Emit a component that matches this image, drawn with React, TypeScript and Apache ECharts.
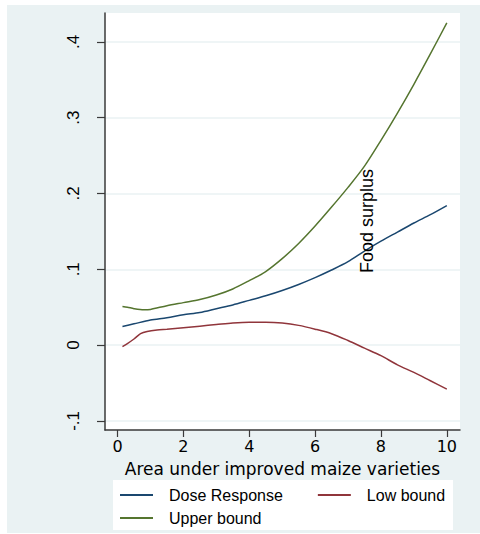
import React, { useEffect, useRef } from "react";
import * as echarts from "echarts";

const xDose = [0.15, 0.5, 1, 1.5, 2, 2.5, 3, 3.5, 4, 4.5, 5, 5.5, 6, 6.5, 7, 7.5, 8, 8.5, 9, 9.5, 10];
const doseResponse = [0.0245, 0.028, 0.033, 0.036, 0.04, 0.043, 0.048, 0.053, 0.059, 0.065, 0.072, 0.08, 0.089, 0.099, 0.11, 0.124, 0.137, 0.149, 0.161, 0.172, 0.184];

const xLow = [0.15, 0.3, 0.5, 0.7, 0.9, 1.2, 1.5, 2, 2.5, 3, 3.5, 4, 4.5, 5, 5.5, 6, 6.5, 7, 7.5, 8, 8.5, 9, 9.5, 10];
const lowBound = [-0.002, 0.002, 0.008, 0.015, 0.018, 0.02, 0.021, 0.023, 0.025, 0.027, 0.029, 0.03, 0.03, 0.029, 0.026, 0.021, 0.015, 0.006, -0.004, -0.014, -0.026, -0.036, -0.047, -0.058];

const xUpper = [0.15, 0.3, 0.5, 0.8, 1, 1.5, 2, 2.5, 3, 3.5, 4, 4.5, 5, 5.5, 6, 6.5, 7, 7.5, 8, 8.5, 9, 9.5, 10];
const upperBound = [0.051, 0.05, 0.048, 0.0465, 0.047, 0.052, 0.056, 0.06, 0.066, 0.074, 0.085, 0.097, 0.114, 0.134, 0.157, 0.182, 0.208, 0.236, 0.27, 0.306, 0.344, 0.384, 0.425];

const xTicks = [0, 2, 4, 6, 8, 10];
const yTicks = [-0.1, 0, 0.1, 0.2, 0.3, 0.4];
const yTickLabels = ["-.1", "0", ".1", ".2", ".3", ".4"];

const seriesNames = ["Dose Response", "Low bound", "Upper bound"];
const colors = ["#1a476f", "#90353b", "#55752f"];

const FONT = "Liberation Sans, Arial, sans-serif";
const WIDE_FONT = "DejaVu Sans, Liberation Sans, sans-serif";

export default function App() {
  const ref = useRef<HTMLDivElement>(null);
  useEffect(() => {
    if (!ref.current) return;
    const chart = echarts.init(ref.current, undefined, { renderer: "svg" });
    const pair = (xs: number[], ys: number[]) => xs.map((x, i) => [x, ys[i]]);
    const mkSeries = (name: string, data: number[][], color: string) => ({
      name,
      type: "line",
      data,
      smooth: 0.3,
      showSymbol: false,
      symbol: "none",
      lineStyle: { color, width: 1.5 },
      itemStyle: { color },
    });
    const legendText = { fontSize: 16, color: "#000", fontFamily: FONT, padding: [0, 0, 0, 11] };
    chart.setOption({
      animation: false,
      backgroundColor: "transparent",
      textStyle: { fontFamily: FONT },
      grid: {
        left: 105,
        right: 20,
        top: 13,
        bottom: 104,
        show: true,
        backgroundColor: "#ffffff",
        borderWidth: 0,
        containLabel: false,
      },
      xAxis: {
        type: "value",
        min: -0.38,
        max: 10.4,
        name: "Area under improved maize varieties",
        nameLocation: "middle",
        nameGap: 30,
        nameMoveOverlap: false,
        nameTextStyle: { fontSize: 17, color: "#000", fontFamily: WIDE_FONT },
        axisLine: { show: true, onZero: false, lineStyle: { color: "#3a3a3a", width: 1.5 } },
        axisTick: { show: true, length: 7, customValues: xTicks, lineStyle: { color: "#3a3a3a", width: 1.2 } },
        axisLabel: {
          customValues: xTicks,
          fontSize: 16,
          color: "#000",
          fontFamily: WIDE_FONT,
          margin: 8,
          formatter: (v: number) => String(v),
        },
        splitLine: { show: false },
      },
      yAxis: {
        type: "value",
        min: -0.112,
        max: 0.438,
        axisLine: { show: true, onZero: false, lineStyle: { color: "#3a3a3a", width: 1.5 } },
        axisTick: { show: true, length: 8, customValues: yTicks, lineStyle: { color: "#3a3a3a", width: 1.2 } },
        axisLabel: {
          customValues: yTicks,
          rotate: 90,
          fontSize: 17,
          color: "#000",
          fontFamily: FONT,
          margin: 23,
          formatter: (v: number) => {
            const i = yTicks.findIndex((t) => Math.abs(t - v) < 1e-9);
            return i >= 0 ? yTickLabels[i] : "";
          },
        },
        splitLine: { show: true, lineStyle: { color: "#eaf2f3", width: 1.5 } },
      },
      legend: [
        {
          data: [seriesNames[0], seriesNames[1]],
          left: 120,
          top: 487,
          padding: 0,
          orient: "horizontal",
          icon: "rect",
          itemWidth: 33,
          itemHeight: 2,
          itemGap: 35,
          selectedMode: false,
          textStyle: legendText,
        },
        {
          data: [seriesNames[2]],
          left: 120,
          top: 510,
          padding: 0,
          orient: "horizontal",
          icon: "rect",
          itemWidth: 33,
          itemHeight: 2,
          selectedMode: false,
          textStyle: legendText,
        },
      ],
      graphic: [
        {
          type: "rect",
          z: 1,
          shape: { x: 113, y: 480, width: 340, height: 50 },
          style: { fill: "#ffffff" },
        },
        {
          type: "text",
          z: 10,
          x: 367,
          y: 221,
          rotation: Math.PI / 2,
          style: {
            text: "Food surplus",
            fontSize: 18,
            fontFamily: FONT,
            fill: "#000",
            align: "center",
            verticalAlign: "middle",
          },
        },
      ],
      series: [
        mkSeries(seriesNames[0], pair(xDose, doseResponse), colors[0]),
        mkSeries(seriesNames[1], pair(xLow, lowBound), colors[1]),
        mkSeries(seriesNames[2], pair(xUpper, upperBound), colors[2]),
      ],
    });
    return () => chart.dispose();
  }, []);
  return (
    <div style={{ position: "fixed", left: 0, top: 0, width: 480, height: 534, background: "#ffffff" }}>
      <div style={{ position: "absolute", left: 7, top: 5, width: 473, height: 528, background: "#eaf2f3" }} />
      <div ref={ref} style={{ position: "absolute", left: 0, top: 0, width: 480, height: 534 }} />
    </div>
  );
}
